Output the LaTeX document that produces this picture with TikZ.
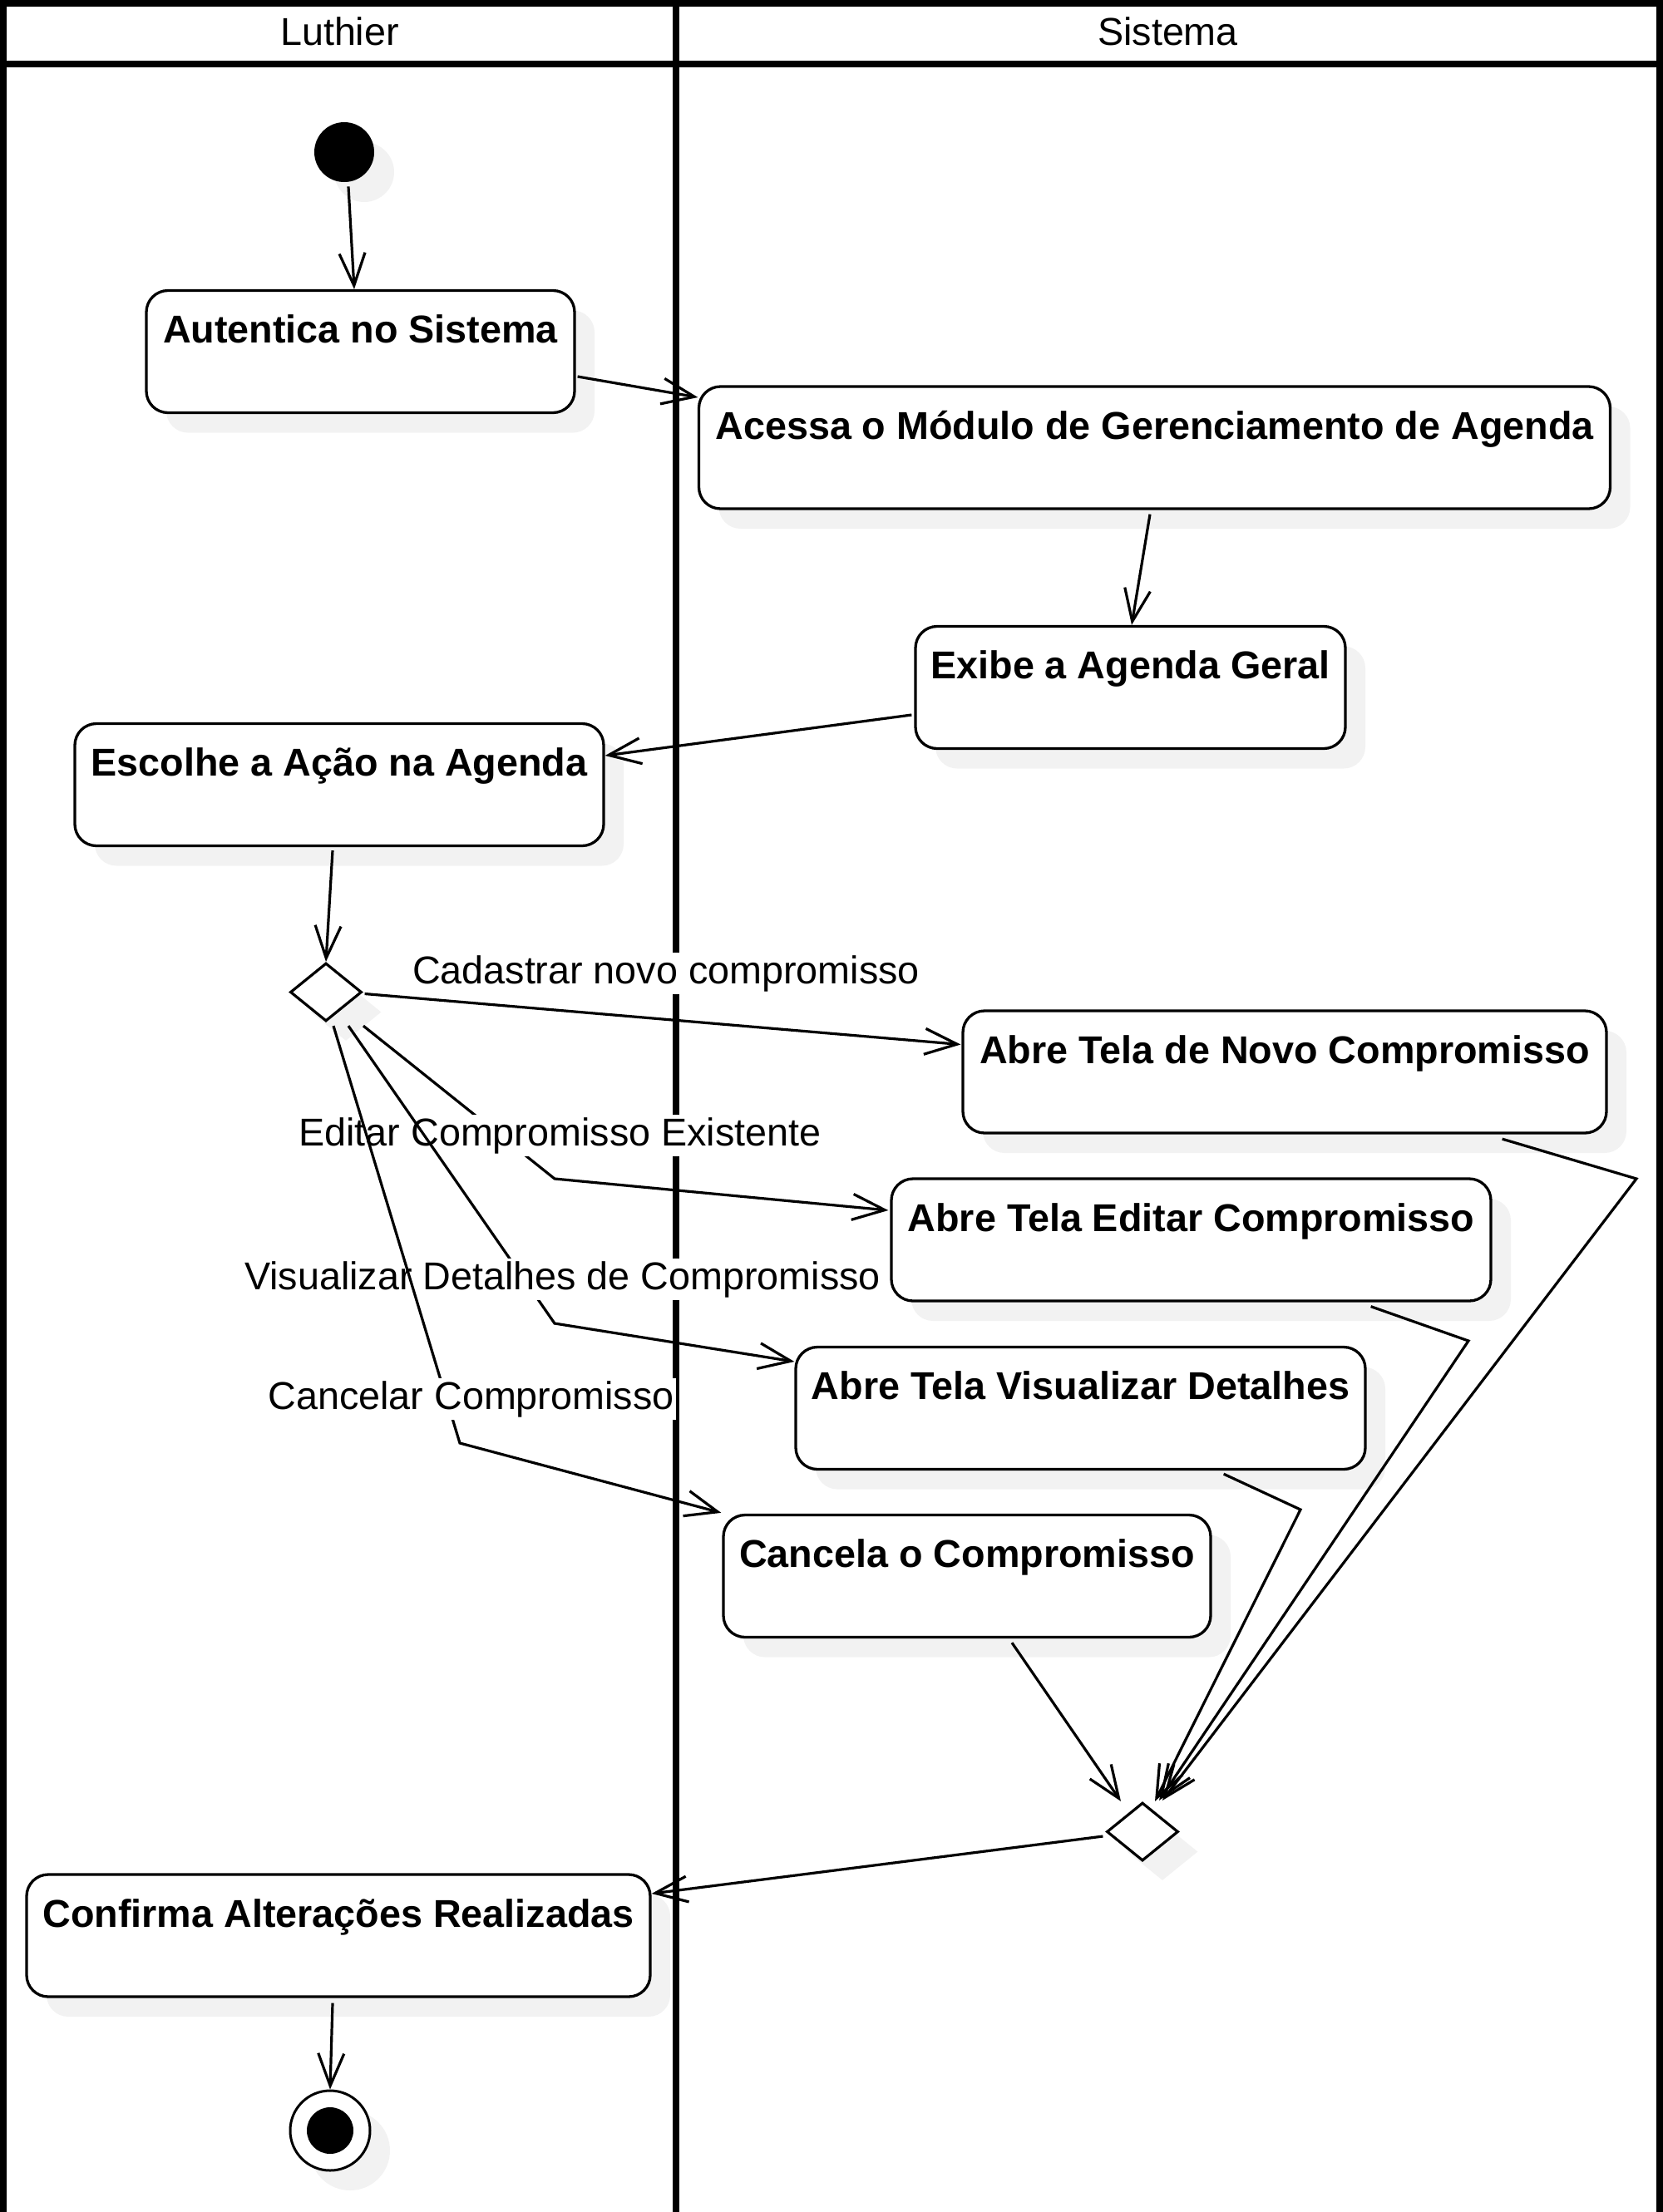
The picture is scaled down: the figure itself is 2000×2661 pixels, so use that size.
\documentclass[tikz,border=0pt]{standalone}
\usepackage{fontspec}
\setmainfont{Liberation Sans}
\usetikzlibrary{arrows.meta,calc,shapes.geometric,shadows}
\definecolor{shadowgray}{HTML}{F2F2F2}
\begin{document}
\begin{tikzpicture}[x=0.5pt,y=-0.5pt,
  shd/.style={drop shadow={shadow xshift=12pt,shadow yshift=-12pt,fill=shadowgray,draw=none,opacity=1}},
  act/.style={draw,line width=1.65pt,rounded corners=13pt,fill=white,inner sep=0pt,
    minimum height=73.5pt,text height=31.5pt,text depth=42pt,
    font=\fontsize{23.35pt}{28pt}\selectfont\bfseries,shd},
  initnode/.style={circle,fill=black,inner sep=0pt,minimum size=36pt,shd},
  finalnode/.style={circle,draw,line width=1.5pt,fill=white,inner sep=0pt,minimum size=48pt,shd},
  dec/.style={diamond,draw,line width=1.6pt,fill=white,inner sep=0pt,minimum width=43pt,minimum height=35pt,shd},
  flow/.style={line width=1.6pt,-{Straight Barb[length=19.5pt,width=15.5pt]}},
  lbl/.style={fill=white,inner sep=1.5pt,font=\fontsize{23.35pt}{28pt}\selectfont},
  hdr/.style={inner sep=0pt,font=\fontsize{23.35pt}{28pt}\selectfont},
  lane/.style={line width=3.8pt}
]
\useasboundingbox (0,0) rectangle (2000,2661);
% swimlanes
\draw[lane] (4,2680) -- (4,4) -- (1996,4) -- (1996,2680);
\draw[lane] (4,77) -- (1996,77);
\draw[lane] (813,4) -- (813,2680);
\node[hdr] (h1) at (408.5,38) {Luthier};
\node[hdr] (h2) at (1404.5,38) {Sistema};

% nodes
\node[initnode] (init) at (414,183) {};
\node[act,minimum width=257.5pt] (aut) at (433.5,423) {Autentica no Sistema};
\node[act,minimum width=548pt] (acc) at (1388.5,538.5) {Acessa o Módulo de Gerenciamento de Agenda};
\node[act,minimum width=258.5pt] (exi) at (1359.5,827) {Exibe a Agenda Geral};
\node[act,minimum width=318pt] (esc) at (408,944) {Escolhe a Ação na Agenda};
\node[dec] (d1) at (392,1193.5) {};
\node[act,minimum width=387pt] (novo) at (1545,1289.5) {Abre Tela de Novo Compromisso};
\node[act,minimum width=360.5pt] (edit) at (1432.5,1491.5) {Abre Tela Editar Compromisso};
\node[act,minimum width=342.5pt] (vis) at (1299.5,1694) {Abre Tela Visualizar Detalhes};
\node[act,minimum width=293pt] (can) at (1163,1896) {Cancela o Compromisso};
\node[dec] (m2) at (1374,2203.5) {};
\node[act,minimum width=375pt] (conf) at (407,2328.5) {Confirma Alterações Realizadas};
\node[finalnode] (fin) at (397,2563) {};
\fill (fin) circle[radius=28];

% bend points
\coordinate (bEd) at (667,1418);
\coordinate (bVi) at (667,1592);
\coordinate (bCa) at (553,1736);
\coordinate (bNo2) at (1968,1418);
\coordinate (bEd2) at (1766,1613);
\coordinate (bVi2) at (1564,1816);

% connectors
\draw[flow] ($(init.south)+(5,5)$) -- ($(aut.north)+(-7.5,0)$);
\draw[flow] ($(aut.east)+(2,30)$) -- ($(acc.west)+(0.5,-60.5)$);
\draw[flow] ($(acc.south)+(-5.5,5)$) -- ($(exi.north)+(1.5,0)$);
\draw[flow] ($(exi.west)+(-3,33)$) -- ($(esc.east)+(0,-35)$);
\draw[flow] ($(esc.south)+(-8,4)$) -- (d1.north);

\draw[flow] ($(d1.east)+(2,2)$) -- ($(novo.west)+(-1,-33)$);
\node[lbl] (l1) at (801,1171) {Cadastrar novo compromisso};
\draw[flow] ($(d1.south)+(45,4)$) -- (bEd) -- ($(edit.west)+(-2,-35.5)$);
\node[lbl] (l2) at (673.5,1366) {Editar Compromisso Existente};
\draw[flow] ($(d1.south)+(27,4)$) -- (bVi) -- ($(vis.west)+(0,-56)$);
\node[lbl] (l3) at (676.5,1539) {Visualizar Detalhes de Compromisso};
\draw[flow] ($(d1.south)+(9,4)$) -- (bCa) -- ($(can.north west)+(-1,-1)$);
\node[lbl] (l4) at (566.5,1683) {Cancelar Compromisso};

\draw[flow] ($(novo.south east)+(-127,5.5)$) -- (bNo2) -- ($(m2.north)+(24,-1)$);
\draw[flow] ($(edit.south east)+(-146,5)$) -- (bEd2) -- ($(m2.north)+(20,-1)$);
\draw[flow] ($(vis.south east)+(-172,4)$) -- (bVi2) -- ($(m2.north)+(15,0)$);
\draw[flow] ($(can.south)+(54,5)$) -- ($(m2.north)+(-26,0)$);

\draw[flow] ($(m2.west)+(-3,5.5)$) -- ($(conf.east)+(0,-50.5)$);
\draw[flow] ($(conf.south)+(-7,6)$) -- (fin.north);
\end{tikzpicture}
\end{document}
